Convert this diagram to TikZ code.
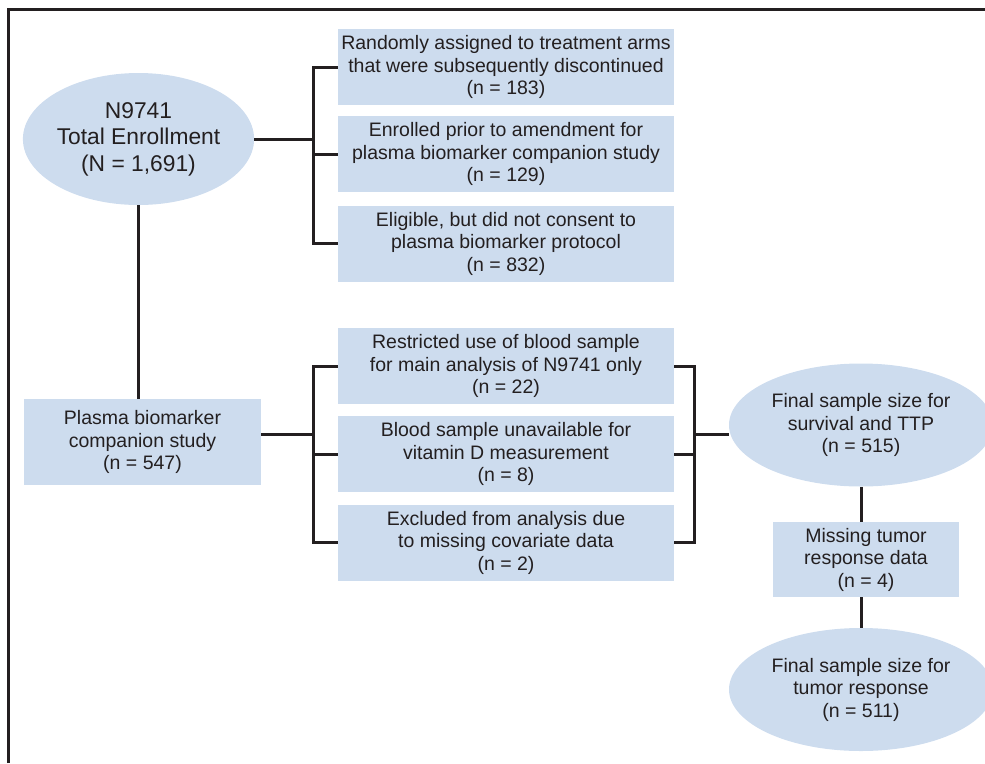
\documentclass[tikz,border=0pt]{standalone}
\usepackage{fontspec}
\setmainfont{Liberation Sans}
\usetikzlibrary{positioning,shapes.geometric}
\definecolor{boxblue}{RGB}{205,220,238}
\definecolor{inkgray}{RGB}{35,31,32}
\begin{document}
\begin{tikzpicture}[x=1pt,y=-1pt,node distance=12pt,
  every node/.style={text=inkgray,font=\fontsize{19.5}{22.5}\selectfont,align=center,inner sep=0pt},
  box/.style={rectangle,fill=boxblue,minimum width=336pt,minimum height=76pt},
  oval/.style={ellipse,fill=boxblue,minimum width=264pt,minimum height=123pt},
  link/.style={draw=inkgray,line width=3pt}]
  \useasboundingbox (0,0) rectangle (985,763);
  \draw[link] (8,763) -- (8,9) -- (985,9);

  \node[oval,minimum width=229pt,minimum height=132pt,font=\fontsize{22.8}{26.5}\selectfont] (enroll) at (138.5,139) {N9741\\Total Enrollment\\(N = 1,691)};
  \node[box] (arms) at (506,67) {Randomly assigned to treatment arms\\that were subsequently discontinued\\(n = 183)};
  \node[box,below=11pt of arms] (prior) {Enrolled prior to amendment for\\plasma biomarker companion study\\(n = 129)};
  \node[box,below=13pt of prior] (consent) {Eligible, but did not consent to\\plasma biomarker protocol\\(n = 832)};
  \node[box,minimum width=237pt,minimum height=86pt] (plasma) at (142.5,442) {Plasma biomarker\\companion study\\(n = 547)};
  \node[box] (restricted) at (506,366) {Restricted use of blood sample\\for main analysis of N9741 only\\(n = 22)};
  \node[box,below=of restricted] (unavail) {Blood sample unavailable for\\vitamin D measurement\\(n = 8)};
  \node[box,below=of unavail] (excluded) {Excluded from analysis due\\to missing covariate data\\(n = 2)};
  \node[oval] (survival) at (861,425) {Final sample size for\\survival and TTP\\(n = 515)};
  \node[box,minimum width=186pt,minimum height=75pt] (missing) at (866,559.5) {Missing tumor\\response data\\(n = 4)};
  \node[oval] (tumor) at (861,689.5) {Final sample size for\\tumor response\\(n = 511)};

  \coordinate (topfork) at (313,139);
  \coordinate (midfork) at (313,434);
  \coordinate (rightfork) at (694,434);

  \draw[link] (enroll.east) -- (topfork);
  \draw[link] (arms.west) -| (topfork) |- (consent.west);
  \draw[link] (prior.west) -- (prior.west -| topfork);
  \draw[link] (enroll.south) -- (enroll.south |- plasma.north);

  \draw[link] (plasma.east |- midfork) -- (midfork);
  \draw[link] (restricted.west) -| (midfork) |- (excluded.west);
  \draw[link] (unavail.west) -- (unavail.west -| midfork);

  \draw[link] (restricted.east) -| (rightfork) |- (excluded.east);
  \draw[link] (unavail.east) -- (unavail.east -| rightfork);
  \draw[link] (rightfork) -- (rightfork -| survival.west);

  \draw[link] (survival.south) -- (survival.south |- missing.north);
  \draw[link] (missing.south -| tumor.north) -- (tumor.north);
\end{tikzpicture}
\end{document}
